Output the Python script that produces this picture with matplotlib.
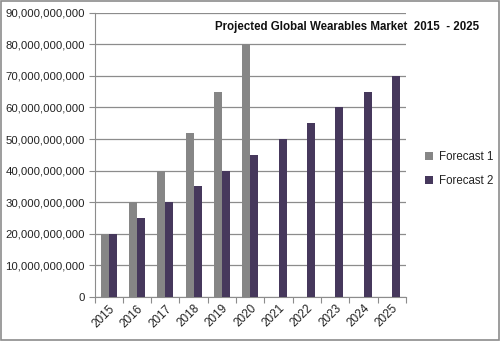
import numpy as np
import matplotlib.pyplot as plt
from matplotlib.ticker import FuncFormatter, FixedLocator
from matplotlib.patches import Rectangle

years = ['2015', '2016', '2017', '2018', '2019', '2020',
         '2021', '2022', '2023', '2024', '2025']
forecast1 = [20e9, 30e9, 40e9, 52e9, 65e9, 80e9, np.nan, np.nan, np.nan, np.nan, np.nan]
forecast2 = [20e9, 25e9, 30e9, 35e9, 40e9, 45e9, 50e9, 55e9, 60e9, 65e9, 70e9]

plt.rcParams['font.family'] = ['Liberation Sans', 'DejaVu Sans']

fig = plt.figure(figsize=(5.0, 3.41), dpi=100)
ax = fig.add_axes([0.189, 0.129, 0.623, 0.834])

x = np.arange(len(years))
w = 1 / 3.5
ax.bar(x - w / 2, forecast1, width=w, color='#868686', label='Forecast 1', zorder=3)
ax.bar(x + w / 2, forecast2, width=w, color='#46385c', label='Forecast 2', zorder=3)

ax.set_xlim(-0.5, len(years) - 0.5)
ax.set_ylim(0, 90e9)
ax.set_yticks(np.arange(0, 90e9 + 1, 10e9))
ax.yaxis.set_major_formatter(FuncFormatter(lambda v, p: f'{v:,.0f}'))
ax.grid(axis='y', color='#8c8c8c', lw=0.9, zorder=0)

# x ticks at category boundaries, labels at centres
ax.xaxis.set_major_locator(FixedLocator(np.arange(-0.5, len(years))))
ax.set_xticklabels([])
ax.set_xticks(x, minor=True)
ax.set_xticklabels(years, minor=True, rotation=45, ha='right', rotation_mode='anchor')
ax.tick_params(axis='x', which='minor', length=0, pad=4, labelsize=8.5, colors='#222222')
ax.tick_params(axis='x', which='major', length=4, color='#8c8c8c', direction='out')
ax.tick_params(axis='y', length=4, color='#8c8c8c', labelsize=8.2, labelcolor='#222222', pad=3)

for s in ['top', 'right']:
    ax.spines[s].set_visible(False)
for s in ['left', 'bottom']:
    ax.spines[s].set_color('#8c8c8c')

fig.text(0.694, 0.922, 'Projected Global Wearables Market  2015  - 2025',
         ha='center', va='center', fontsize=8.3, fontweight='bold', color='#111111')

fig.legend(loc='center left', bbox_to_anchor=(0.849, 0.504), frameon=False,
           borderpad=0, borderaxespad=0,
           fontsize=8.3, handlelength=0.7, handleheight=0.7, handletextpad=0.6,
           labelspacing=1.1, labelcolor='#222222')

fig.patches.append(Rectangle((0.002, 0.002), 0.995, 0.995, transform=fig.transFigure,
                             fill=False, edgecolor='#8c8c8c', lw=1.2))

fig.savefig('out.png', dpi=100)
